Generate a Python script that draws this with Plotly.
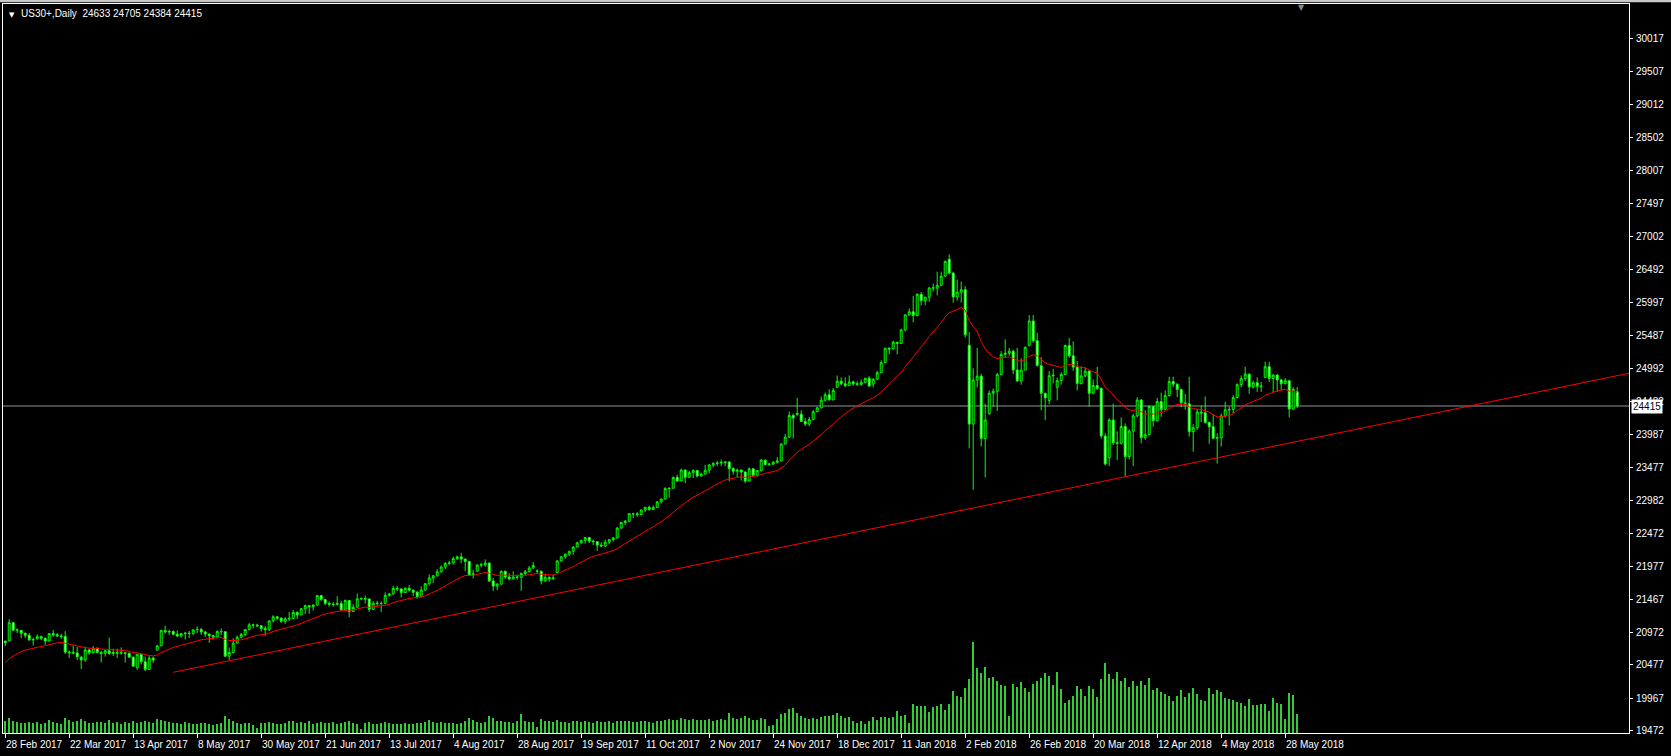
import plotly.graph_objects as go

# ---------------- DATA ----------------
symbol_title = "US30+,Daily"

tick_bars = [0, 16, 32, 48, 64, 80, 96, 112, 128, 144, 160, 176, 192, 208, 224, 240, 256, 272, 288, 304, 320]
tick_dates = ["28 Feb 2017", "22 Mar 2017", "13 Apr 2017", "8 May 2017", "30 May 2017", "21 Jun 2017",
              "13 Jul 2017", "4 Aug 2017", "28 Aug 2017", "19 Sep 2017", "11 Oct 2017", "2 Nov 2017",
              "24 Nov 2017", "18 Dec 2017", "11 Jan 2018", "2 Feb 2018", "26 Feb 2018", "20 Mar 2018",
              "12 Apr 2018", "4 May 2018", "28 May 2018"]

price_ticks = [19472, 19967, 20477, 20972, 21467, 21977, 22472, 22982, 23477, 23987, 24482,
               24992, 25487, 25997, 26492, 27002, 27497, 28007, 28502, 29012, 29507, 30017]

# closes before the first visible bar (mid Jan - 27 Feb 2017), feed the moving average only
prior_closes = [19885, 19826, 19804, 19732, 19827, 19799, 19912, 20069, 20100, 20094, 19971, 19864,
                19891, 19885, 20071, 20053, 20090, 20054, 20172, 20269, 20412, 20504, 20611, 20620,
                20624, 20624, 20744, 20775, 20811, 20822, 20837]

opens = [
    20837, 20840, 21115, 21003, 21000, 20954, 20924, 20856, 20870, 20903, 20881, 20837, 20950, 20934, 20915, 20906,
    20669, 20661, 20656, 20590, 20550, 20701, 20659, 20728, 20663, 20650, 20689, 20648, 20662, 20656, 20658, 20651,
    20592, 20430, 20636, 20523, 20404, 20578, 20700, 20763, 20996, 20975, 20982, 20941, 20913, 20950, 20957, 20951,
    21010, 21013, 20975, 20943, 20919, 20897, 20982, 20980, 20607, 20663, 20805, 20895, 20937, 21012, 21083, 21080,
    21070, 21029, 21009, 21144, 21206, 21184, 21137, 21174, 21182, 21272, 21236, 21329, 21375, 21360, 21384, 21529,
    21468, 21410, 21397, 21395, 21409, 21311, 21454, 21288, 21350, 21479, 21485, 21478, 21320, 21414, 21409, 21410,
    21533, 21554, 21638, 21630, 21575, 21641, 21612, 21580, 21513, 21613, 21711, 21797, 21830, 21891, 21964, 22016,
    22026, 22092, 22118, 22085, 22049, 21844, 21900, 21993, 21998, 22025, 21750, 21674, 21703, 21899, 21812, 21783,
    21813, 21808, 21865, 21892, 21948, 21900, 21900, 21753, 21807, 21785, 21880, 22057, 22119, 22158, 22203, 22268,
    22331, 22370, 22412, 22359, 22350, 22297, 22284, 22341, 22381, 22405, 22557, 22642, 22661, 22775, 22774, 22762,
    22831, 22873, 22841, 22872, 22957, 22998, 23158, 23163, 23329, 23274, 23441, 23329, 23400, 23434, 23349, 23377,
    23436, 23517, 23539, 23548, 23557, 23563, 23462, 23422, 23440, 23410, 23272, 23458, 23358, 23431, 23591, 23526,
    23530, 23558, 23580, 23836, 23940, 24272, 24300, 24290, 24180, 24140, 24211, 24329, 24387, 24504, 24585, 24509,
    24700, 24792, 24754, 24726, 24782, 24754, 24746, 24775, 24838, 24750, 24824, 24922, 25075, 25295, 25283, 25385,
    25369, 25574, 25803, 25850, 25792, 26115, 26017, 26071, 26214, 26210, 26252, 26392, 26650, 26439, 26076, 26149,
    26186, 25340, 24140, 24810, 24870, 23920, 24300, 24610, 24640, 24893, 25200, 25219, 25250, 24965, 24798, 24962,
    25340, 25709, 25410, 25029, 24608, 24500, 24875, 24700, 24801, 24895, 25336, 25179, 25007, 24759, 24873, 24947,
    24611, 24727, 24683, 23958, 23630, 24202, 23857, 23849, 24103, 23644, 24033, 24265, 24505, 23933, 23979, 24408,
    24190, 24483, 24360, 24573, 24787, 24748, 24665, 24463, 24449, 24024, 24084, 24323, 24311, 24163, 24100, 23925,
    23930, 24263, 24357, 24361, 24543, 24740, 24831, 24900, 24706, 24769, 24714, 24850, 25013, 24835, 24886, 24812,
    24760, 24800, 24370, 24633,
]
highs = [
    20840, 21170, 21130, 21030, 21005, 20965, 20960, 20890, 20940, 20920, 20885, 20960, 21005, 20960, 20950, 20990,
    20690, 20770, 20750, 20610, 20750, 20720, 20760, 20740, 20690, 20700, 20890, 20720, 20720, 20740, 20670, 20660,
    20600, 20640, 20640, 20600, 20620, 20600, 20780, 21010, 21070, 21010, 21000, 21000, 20960, 20970, 20990, 21010,
    21060, 21040, 20990, 20950, 20930, 21000, 21030, 20985, 20740, 20880, 20920, 20960, 21020, 21110, 21100, 21100,
    21080, 21070, 21150, 21230, 21220, 21200, 21200, 21280, 21310, 21290, 21340, 21390, 21380, 21400, 21540, 21540,
    21480, 21440, 21430, 21520, 21450, 21470, 21460, 21400, 21560, 21500, 21530, 21480, 21440, 21450, 21440, 21580,
    21570, 21680, 21680, 21640, 21650, 21690, 21620, 21600, 21670, 21720, 21850, 21840, 21930, 21990, 22040, 22060,
    22120, 22140, 22180, 22090, 22050, 21920, 22010, 22030, 22080, 22030, 21800, 21720, 21910, 21910, 21870, 21900,
    21850, 21880, 21920, 21980, 22040, 21930, 21910, 21860, 21820, 21850, 22070, 22130, 22170, 22210, 22280, 22350,
    22380, 22420, 22420, 22380, 22360, 22340, 22380, 22390, 22420, 22570, 22650, 22680, 22780, 22790, 22800, 22840,
    22880, 22900, 22900, 22960, 23010, 23180, 23170, 23340, 23370, 23460, 23450, 23430, 23450, 23440, 23400, 23520,
    23530, 23560, 23580, 23600, 23570, 23570, 23480, 23460, 23450, 23420, 23480, 23470, 23440, 23610, 23600, 23550,
    23580, 23640, 23850, 23990, 24330, 24300, 24540, 24350, 24230, 24250, 24350, 24400, 24560, 24620, 24670, 24690,
    24880, 24850, 24850, 24880, 24800, 24790, 24820, 24840, 24870, 24830, 24950, 25110, 25300, 25310, 25410, 25390,
    25590, 25810, 25900, 26090, 26130, 26150, 26080, 26220, 26280, 26460, 26460, 26630, 26720, 26460, 26340, 26310,
    26240, 25540, 24990, 25300, 24910, 24450, 24650, 24680, 24920, 25250, 25430, 25300, 25270, 25300, 25140, 25320,
    25800, 25800, 25530, 25160, 24620, 24950, 24980, 24850, 24930, 25350, 25450, 25400, 25100, 25020, 25000, 24950,
    24820, 25010, 24700, 24000, 24230, 24450, 24030, 24240, 24150, 24060, 24300, 24550, 24520, 24350, 24420, 24410,
    24540, 24620, 24650, 24860, 24860, 24760, 24680, 24600, 24860, 24140, 24370, 24420, 24560, 24180, 24290, 24000,
    24300, 24480, 24400, 24580, 24760, 24880, 25010, 24910, 24800, 24850, 24780, 25090, 25090, 24900, 24900, 24830,
    24840, 24810, 24700, 24705,
]
lows = [
    20757, 20830, 20990, 20960, 20880, 20880, 20840, 20770, 20860, 20850, 20780, 20830, 20900, 20900, 20870, 20640,
    20580, 20630, 20550, 20410, 20520, 20630, 20650, 20650, 20510, 20600, 20630, 20610, 20580, 20630, 20510, 20580,
    20450, 20400, 20480, 20380, 20400, 20500, 20690, 20760, 20950, 20930, 20930, 20900, 20890, 20860, 20880, 20930,
    20960, 20930, 20900, 20810, 20860, 20890, 20930, 20600, 20550, 20650, 20800, 20880, 20910, 21000, 21030, 21050,
    20980, 20920, 20990, 21120, 21160, 21110, 21100, 21140, 21170, 21170, 21230, 21250, 21250, 21300, 21380, 21450,
    21380, 21360, 21360, 21380, 21300, 21300, 21200, 21280, 21350, 21460, 21410, 21280, 21310, 21370, 21280, 21400,
    21510, 21540, 21600, 21500, 21570, 21590, 21520, 21480, 21510, 21600, 21680, 21720, 21820, 21880, 21930, 21990,
    22000, 22070, 22020, 21900, 21830, 21790, 21890, 21960, 21970, 21740, 21600, 21610, 21700, 21780, 21760, 21780,
    21770, 21600, 21830, 21880, 21940, 21860, 21700, 21740, 21740, 21770, 21870, 22040, 22090, 22130, 22150, 22260,
    22320, 22320, 22330, 22300, 22210, 22270, 22270, 22310, 22350, 22400, 22550, 22600, 22650, 22710, 22730, 22750,
    22800, 22820, 22840, 22860, 22930, 22990, 23020, 23160, 23260, 23270, 23240, 23320, 23320, 23330, 23340, 23370,
    23390, 23480, 23500, 23500, 23500, 23270, 23370, 23330, 23280, 23240, 23270, 23350, 23340, 23420, 23510, 23500,
    23520, 23540, 23570, 23830, 23930, 23920, 24260, 24170, 24110, 24110, 24200, 24320, 24380, 24480, 24500, 24500,
    24690, 24730, 24700, 24720, 24720, 24720, 24720, 24760, 24710, 24700, 24810, 24920, 25070, 25200, 25280, 25200,
    25360, 25550, 25790, 25690, 25780, 25950, 25950, 26000, 26160, 26100, 26240, 26380, 26420, 25990, 26020, 25990,
    25460, 23770, 23140, 24700, 23800, 23330, 24280, 24400, 24340, 24880, 25150, 25180, 24900, 24780, 24740, 24960,
    25320, 25380, 25020, 24350, 24200, 24440, 24760, 24500, 24740, 24890, 25150, 24950, 24650, 24740, 24850, 24400,
    24590, 24660, 23920, 23510, 23500, 23820, 23590, 23830, 23340, 23600, 23500, 24240, 23850, 23900, 23970, 24100,
    24180, 24250, 24350, 24560, 24700, 24550, 24400, 24360, 23950, 23720, 24050, 24170, 24150, 23840, 23910, 23540,
    23800, 24240, 24120, 24300, 24530, 24700, 24800, 24600, 24680, 24630, 24630, 24840, 24780, 24620, 24630, 24660,
    24740, 24240, 24350, 24384,
]
closes = [
    20812, 21115, 21003, 21006, 20954, 20924, 20856, 20858, 20903, 20881, 20837, 20950, 20934, 20915, 20906, 20669,
    20661, 20656, 20597, 20550, 20701, 20659, 20728, 20663, 20650, 20689, 20648, 20662, 20656, 20658, 20651, 20592,
    20453, 20636, 20523, 20404, 20578, 20548, 20763, 20996, 20975, 20982, 20941, 20913, 20950, 20957, 20951, 21007,
    21013, 20975, 20943, 20919, 20897, 20982, 20980, 20607, 20663, 20805, 20895, 20937, 21012, 21083, 21080, 21070,
    21029, 21009, 21144, 21206, 21184, 21137, 21174, 21182, 21272, 21236, 21329, 21375, 21360, 21384, 21529, 21468,
    21410, 21397, 21395, 21409, 21311, 21454, 21288, 21350, 21479, 21485, 21478, 21320, 21414, 21409, 21410, 21533,
    21554, 21638, 21630, 21575, 21641, 21612, 21580, 21513, 21613, 21711, 21797, 21830, 21891, 21964, 22016, 22026,
    22092, 22118, 22085, 22049, 21844, 21858, 21993, 21998, 22025, 21750, 21674, 21703, 21899, 21812, 21783, 21813,
    21808, 21865, 21892, 21948, 21988, 21900, 21753, 21807, 21785, 21798, 22057, 22119, 22158, 22203, 22268, 22331,
    22370, 22412, 22359, 22350, 22297, 22284, 22341, 22381, 22405, 22557, 22642, 22661, 22775, 22774, 22762, 22831,
    22873, 22841, 22872, 22957, 22998, 23158, 23163, 23329, 23274, 23441, 23329, 23400, 23434, 23349, 23377, 23436,
    23517, 23539, 23548, 23557, 23563, 23462, 23422, 23440, 23410, 23272, 23458, 23358, 23431, 23591, 23526, 23530,
    23558, 23580, 23836, 23940, 24272, 24231, 24290, 24180, 24140, 24211, 24329, 24387, 24504, 24585, 24509, 24652,
    24792, 24754, 24726, 24782, 24754, 24746, 24775, 24838, 24719, 24824, 24922, 25075, 25295, 25283, 25385, 25369,
    25574, 25803, 25850, 25792, 26115, 26017, 26071, 26214, 26210, 26252, 26392, 26616, 26439, 26076, 26149, 26186,
    25500, 24140, 24810, 24870, 23920, 24200, 24610, 24640, 24893, 25200, 25219, 25250, 24965, 24798, 24962, 25310,
    25709, 25410, 25029, 24608, 24538, 24875, 24884, 24801, 24895, 25336, 25179, 25007, 24759, 24873, 24947, 24611,
    24727, 24683, 23958, 23533, 24202, 23857, 23849, 24103, 23644, 24033, 24265, 24505, 23933, 23979, 24408, 24190,
    24483, 24360, 24573, 24787, 24748, 24665, 24463, 24449, 24024, 24084, 24323, 24311, 24163, 24100, 23925, 23930,
    24263, 24357, 24361, 24543, 24740, 24831, 24900, 24706, 24769, 24714, 24715, 25013, 24835, 24886, 24812, 24753,
    24800, 24370, 24668, 24415,
]
volumes = [
    12, 15, 12, 11, 10, 10, 11, 10, 11, 9, 10, 13, 11, 10, 9, 15, 13, 11, 12, 14, 12, 10, 10, 11,
    11, 10, 13, 10, 11, 9, 11, 10, 12, 10, 11, 12, 11, 10, 14, 13, 12, 11, 10,
    10, 9, 11, 10, 9, 9, 10, 10, 9, 8, 9, 10, 17, 14, 12, 10, 9, 10, 10, 8, 5, 10, 10,
    11, 10, 9, 9, 10, 12, 12, 10, 11, 10, 12, 9, 10, 11, 10, 10, 11, 9, 10, 11, 12, 10,
    9, 4, 10, 11, 9, 9, 10, 11, 10, 9, 9, 9, 10, 9, 9, 10, 10, 11, 13, 11, 10,
    11, 10, 10, 10, 9, 10, 12, 15, 13, 11, 10, 11, 17, 15, 12, 12, 11, 11, 10, 12, 19, 12, 11,
    11, 6, 14, 12, 12, 11, 13, 11, 11, 10, 12, 12, 11, 12, 11, 10, 12, 11, 11, 12, 10,
    12, 12, 12, 12, 11, 11, 12, 12, 11, 10, 12, 12, 13, 14, 13, 13, 15, 14, 13, 14, 13, 13,
    13, 14, 12, 13, 14, 13, 20, 15, 14, 15, 17, 15, 13, 13, 15, 14, 7, 8, 14, 19, 20, 24,
    25, 20, 17, 15, 14, 15, 14, 16, 17, 17, 18, 20, 17, 15, 16,
    12, 10, 12, 9, 12, 16, 13, 16, 16, 15, 16, 22, 17, 18, 10, 29, 27, 27, 27, 21,
    26, 27, 29, 23, 29, 42, 37, 36, 45, 54, 91, 65, 60, 66, 55, 56, 52, 48, 47, 17,
    49, 46, 51, 45, 41, 49, 52, 55, 60, 57, 48, 61, 44, 30, 33, 37, 47, 44, 37, 47,
    44, 36, 54, 70, 59, 54, 61, 52, 55, 46, 52, 47, 52, 48, 55, 43, 45, 41, 39, 37,
    32, 37, 43, 36, 40, 45, 39, 33, 32, 45, 39, 43, 41, 35, 34, 33, 31, 30, 27, 34,
    28, 28, 29, 29, 22, 35, 30, 29, 14, 40, 38, 19,
]

# trend line anchors (bar index, price)
trend_bars = [42, 303]
trend_prices = [20361, 23626]

ema_period = 20
# --------------------------------------

N = len(closes)
xs = list(range(N))

# exponential moving average of closes
alpha = 2.0 / (ema_period + 1)
e = prior_closes[0]
for c in prior_closes[1:]:
    e += alpha * (c - e)
ema = []
for c in closes:
    e += alpha * (c - e)
    ema.append(e)

x_range = [-0.55, 405.95]
y_range = [19437, 30535]

slope = (trend_prices[1] - trend_prices[0]) / (trend_bars[1] - trend_bars[0])
trend_x = [trend_bars[0], x_range[1]]
trend_y = [trend_prices[0], trend_prices[0] + slope * (x_range[1] - trend_bars[0])]

FONT = "Liberation Sans, Arial, sans-serif"
LIME = "#00FF00"
last_close = closes[-1]

fig = go.Figure()

fig.add_trace(go.Bar(
    x=xs, y=volumes, yaxis="y2", width=0.25,
    marker=dict(color="#32CD32", line=dict(width=0)),
    hoverinfo="skip", showlegend=False,
))

fig.add_trace(go.Candlestick(
    x=xs, open=opens, high=highs, low=lows, close=closes,
    increasing=dict(line=dict(color=LIME, width=1), fillcolor="black"),
    decreasing=dict(line=dict(color=LIME, width=1), fillcolor="white"),
    whiskerwidth=0, showlegend=False,
))

fig.add_trace(go.Scatter(
    x=xs, y=ema, mode="lines", line=dict(color="#FF0000", width=1),
    hoverinfo="skip", showlegend=False,
))

fig.add_trace(go.Scatter(
    x=trend_x, y=trend_y, mode="lines", line=dict(color="#FF0000", width=1),
    hoverinfo="skip", showlegend=False,
))

annotations = []
# price scale labels (right side)
for p in price_ticks:
    annotations.append(dict(
        xref="paper", yref="y", x=1, y=p, xanchor="left", yanchor="middle",
        xshift=5, text=str(p), showarrow=False,
        font=dict(family=FONT, size=10, color="white")))
# date labels (start at their tick)
for b, d in zip(tick_bars, tick_dates):
    annotations.append(dict(
        xref="x", yref="paper", x=b, y=0, xanchor="left", yanchor="top",
        xshift=-1, yshift=-4, text=d, showarrow=False,
        font=dict(family=FONT, size=10, color="white")))
# header
annotations.append(dict(xref="paper", yref="paper", x=0, y=1, xanchor="left", yanchor="top",
                        xshift=4, yshift=-5, text="▼", showarrow=False,
                        font=dict(family="DejaVu Sans", size=7, color="white")))
annotations.append(dict(xref="paper", yref="paper", x=0, y=1, xanchor="left", yanchor="top",
                        xshift=16, yshift=-2,
                        text=f"{symbol_title}  {opens[-1]} {highs[-1]} {lows[-1]} {closes[-1]}",
                        showarrow=False, font=dict(family=FONT, size=10, color="white")))
# last price box
annotations.append(dict(xref="paper", yref="y", x=1, y=last_close, xanchor="left", yanchor="middle",
                        xshift=2, text=str(last_close), showarrow=False,
                        bgcolor="white", borderpad=1,
                        font=dict(family=FONT, size=10, color="black")))
# chart shift marker
annotations.append(dict(xref="x", yref="paper", x=N, y=1, xanchor="center", yanchor="top",
                        yshift=3, text="▼", showarrow=False,
                        font=dict(family="DejaVu Sans", size=8, color="#8A8A8A")))

fig.update_layout(
    width=1671, height=756,
    margin=dict(l=3, r=42, t=4, b=23, pad=0, autoexpand=False),
    paper_bgcolor="black", plot_bgcolor="black",
    showlegend=False,
    bargap=0,
    xaxis=dict(
        range=x_range, showgrid=False, zeroline=False,
        showline=True, linecolor="white", linewidth=1, mirror=True,
        ticks="outside", ticklen=4, tickcolor="white", tickwidth=1,
        tickvals=tick_bars, showticklabels=False, automargin=False,
        rangeslider=dict(visible=False), fixedrange=True,
    ),
    yaxis=dict(
        range=y_range, side="right", showgrid=False, zeroline=False,
        showline=True, linecolor="white", linewidth=1, mirror=True,
        ticks="outside", ticklen=3, tickcolor="white", tickwidth=1,
        tickvals=price_ticks, showticklabels=False, automargin=False,
    ),
    yaxis2=dict(
        overlaying="y", range=[0, max(volumes) * 8.04], visible=False,
    ),
    shapes=[
        dict(type="line", xref="paper", x0=0, x1=1, yref="y", y0=last_close, y1=last_close,
             line=dict(color="#8C96A0", width=1), layer="below"),
        dict(type="rect", xref="paper", x0=-0.01, x1=1.03, yref="paper", y0=1.0025, y1=1.006,
             fillcolor="#C8C8C8", line=dict(width=0)),
    ],
    annotations=annotations,
)

fig.write_html(
    "out.html",
    config={"displayModeBar": False},
    post_script="document.body.style.margin='0';document.body.style.overflow='hidden';",
)
